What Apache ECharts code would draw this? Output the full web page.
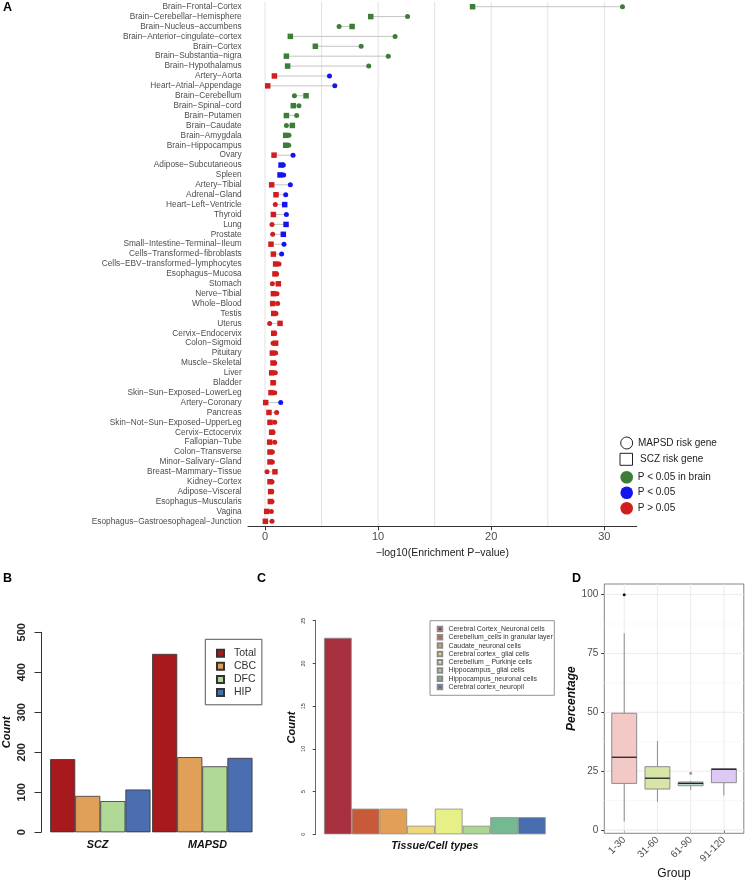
<!DOCTYPE html>
<html><head><meta charset="utf-8">
<script src="https://cdn.jsdelivr.net/npm/echarts@6/dist/echarts.min.js"></script>
<style>html,body{margin:0;padding:0;background:#fff}#c{width:747px;height:881px}</style>
</head><body><div id="c"></div>
<script>
// ---------- Panel A data ----------
const tissues = ['Brain-Frontal-Cortex','Brain-Cerebellar-Hemisphere','Brain-Nucleus-accumbens','Brain-Anterior-cingulate-cortex','Brain-Cortex','Brain-Substantia-nigra','Brain-Hypothalamus','Artery-Aorta','Heart-Atrial-Appendage','Brain-Cerebellum','Brain-Spinal-cord','Brain-Putamen','Brain-Caudate','Brain-Amygdala','Brain-Hippocampus','Ovary','Adipose-Subcutaneous','Spleen','Artery-Tibial','Adrenal-Gland','Heart-Left-Ventricle','Thyroid','Lung','Prostate','Small-Intestine-Terminal-Ileum','Cells-Transformed-fibroblasts','Cells-EBV-transformed-lymphocytes','Esophagus-Mucosa','Stomach','Nerve-Tibial','Whole-Blood','Testis','Uterus','Cervix-Endocervix','Colon-Sigmoid','Pituitary','Muscle-Skeletal','Liver','Bladder','Skin-Sun-Exposed-LowerLeg','Artery-Coronary','Pancreas','Skin-Not-Sun-Exposed-UpperLeg','Cervix-Ectocervix','Fallopian-Tube','Colon-Transverse','Minor-Salivary-Gland','Breast-Mammary-Tissue','Kidney-Cortex','Adipose-Visceral','Esophagus-Muscularis','Vagina','Esophagus-Gastroesophageal-Junction'];
const sczValues = [18.35,9.35,7.7,2.24,4.45,1.89,2.0,0.83,0.24,3.63,2.5,1.89,2.42,1.83,1.83,0.8,1.42,1.33,0.59,0.97,1.74,0.74,1.86,1.62,0.53,0.74,0.94,0.88,1.18,0.74,0.68,0.77,1.33,0.77,0.94,0.65,0.71,0.59,0.71,0.53,0.06,0.35,0.44,0.59,0.41,0.44,0.44,0.88,0.44,0.5,0.47,0.15,0.03];
const mapsdValues = [31.6,12.6,6.55,11.5,8.5,10.9,9.17,5.7,6.17,2.6,3.0,2.8,1.89,2.12,2.1,2.48,1.62,1.65,2.24,1.83,0.91,1.89,0.62,0.68,1.68,1.47,1.24,1.03,0.65,1.06,1.12,0.97,0.41,0.86,0.71,0.94,0.86,0.91,0.77,0.86,1.39,1.03,0.86,0.71,0.86,0.65,0.65,0.18,0.62,0.6,0.62,0.56,0.62];
// B = P<0.05 in brain, S = P<0.05, N = P>0.05
const sczGroup = ['B','B','B','B','B','B','B','N','N','B','B','B','B','B','B','N','S','S','N','N','S','N','S','S','N','N','N','N','N','N','N','N','N','N','N','N','N','N','N','N','N','N','N','N','N','N','N','N','N','N','N','N','N'];
const mapsdGroup = ['B','B','B','B','B','B','B','S','S','B','B','B','B','B','B','S','S','S','S','S','N','S','N','N','S','S','N','N','N','N','N','N','N','N','N','N','N','N','N','N','S','N','N','N','N','N','N','N','N','N','N','N','N'];
const gridTicksA = [0,5,10,15,20,25,30];
const labelTicksA = [0,10,20,30];

// ---------- Panel B data ----------
const barGroups = ['SCZ','MAPSD'];
const barNames = ['Total','CBC','DFC','HIP'];
const barTotal = [183,446];
const barCBC = [91,188];
const barDFC = [78,165];
const barHIP = [107,186];

// ---------- Panel C data ----------
const cellTypes = ['Cerebral Cortex_Neuronal cells','Cerebellum_cells in granular layer','Caudate_neuronal cells','Cerebral cortex_ glial cells','Cerebellum _ Purkinje cells','Hippocampus_ glial cells','Hippocampus_neuronal cells','Cerebral cortex_neuropil'];
const cellCounts = [23,3,3,1,3,1,2,2];

// ---------- Panel D data ----------
const boxGroups = ['1-30','31-60','61-90','91-120'];
const boxPositions = [1,2,3,4];
const boxLow = [3.6,12.0,17.0,14.7];
const boxQ1 = [19.8,17.4,18.8,20.1];
const boxMedian = [30.9,22.0,19.8,25.8];
const boxQ3 = [49.6,26.9,20.4,26.0];
const boxHigh = [83.6,37.8,20.8,26.3];
const outlierGroup = [1,3];
const outlierValue = [99.9,24.1];
const gridMajorD = [0,25,50,75,100];
const gridMinorD = [12.5,37.5,62.5,87.5];

// ---------- styles ----------
const groupColor = {B:'#3C7D37', S:'#1414F0', N:'#D01E1E'};
const barColors = ['#A8191E','#E0A05A','#B0D896','#4A6EAF'];
const cellColors = ['#A6303E','#C85A3A','#E1A055','#F0D778','#E6F087','#AAD791','#73B991','#466EAF'];
const boxFills = ['#F2C9C7','#D7E5A6','#C2DCDC','#DEC9F5'];
const outlierColors = ['#111','#999'];
const FONT = 'Liberation Sans, Arial, sans-serif';

const chart = echarts.init(document.getElementById('c'), null, {renderer:'canvas'});

const series = [];
// A: vertical gridlines
series.push({
  type:'custom', xAxisIndex:0, yAxisIndex:0, z:0, silent:true,
  data: gridTicksA.map(v=>[v, 0]),
  encode:{x:0, y:1},
  renderItem:(params, api)=>{
    const p = api.coord([api.value(0), 0]);
    const cs = params.coordSys;
    return {type:'line', shape:{x1:p[0],y1:cs.y,x2:p[0],y2:cs.y+cs.height}, style:{stroke:'#E3E3E3', lineWidth:1}};
  }
});
// A: segments
series.push({
  type:'custom', xAxisIndex:0, yAxisIndex:0, z:1, silent:true,
  data: tissues.map((t,i)=>[sczValues[i], mapsdValues[i], i]),
  encode:{x:[0,1], y:2},
  renderItem:(params, api)=>{
    const a = api.coord([api.value(0), api.value(2)]);
    const b = api.coord([api.value(1), api.value(2)]);
    return {type:'line', shape:{x1:a[0],y1:a[1],x2:b[0],y2:b[1]}, style:{stroke:'#C4C4C4', lineWidth:1}};
  }
});
series.push({
  name:'SCZ risk gene', type:'scatter', xAxisIndex:0, yAxisIndex:0, z:5, symbol:'rect', symbolSize:5.5,
  data: tissues.map((t,i)=>({value:[sczValues[i], i], itemStyle:{color:groupColor[sczGroup[i]], opacity:1}}))
});
series.push({
  name:'MAPSD risk gene', type:'scatter', xAxisIndex:0, yAxisIndex:0, z:6, symbol:'circle', symbolSize:5,
  data: tissues.map((t,i)=>({value:[mapsdValues[i], i], itemStyle:{color:groupColor[mapsdGroup[i]], opacity:1}}))
});
// B
[barTotal, barCBC, barDFC, barHIP].forEach((arr,k)=>{
  series.push({name:barNames[k], type:'bar', xAxisIndex:1, yAxisIndex:1, data:arr,
    barGap:'0%', barCategoryGap:'1.6%',
    itemStyle:{color:barColors[k], borderColor:'#333', borderWidth:0.8}});
});
// C
cellTypes.forEach((n,k)=>{
  series.push({name:n, type:'bar', xAxisIndex:2, yAxisIndex:2, data:[cellCounts[k]],
    barGap:'0%', barCategoryGap:'0%',
    itemStyle:{color:cellColors[k], borderColor:'#8A8A8A', borderWidth:0.8}});
});
// D: gridlines
const dGrid = gridMajorD.map(v=>[v,'hmaj']).concat(gridMinorD.map(v=>[v,'hmin'])).concat(boxPositions.map(v=>[v,'v']));
series.push({
  type:'custom', xAxisIndex:3, yAxisIndex:3, z:1, silent:true,
  data: dGrid.map(d=>[d[1]==='v'?d[0]:1, d[1]==='v'?0:d[0]]),
  encode:{x:0, y:1},
  renderItem:(params, api)=>{
    const kind = dGrid[params.dataIndex][1];
    const p = api.coord([api.value(0), api.value(1)]);
    const cs = params.coordSys;
    if (kind==='v') return {type:'line', shape:{x1:p[0],y1:cs.y,x2:p[0],y2:cs.y+cs.height}, style:{stroke:'#EBEBEB', lineWidth:1}};
    return {type:'line', shape:{x1:cs.x,y1:p[1],x2:cs.x+cs.width,y2:p[1]}, style:{stroke: kind==='hmaj'?'#EBEBEB':'#F4F4F4', lineWidth: kind==='hmaj'?1:0.6}};
  }
});
// D: boxes
series.push({
  type:'custom', xAxisIndex:3, yAxisIndex:3, z:3, silent:true,
  data: boxGroups.map((g,i)=>[boxPositions[i], boxLow[i], boxQ1[i], boxMedian[i], boxQ3[i], boxHigh[i]]),
  encode:{x:0, y:[1,2,3,4,5]},
  renderItem:(params, api)=>{
    const x = api.value(0);
    const lo = api.coord([x, api.value(1)]);
    const q1 = api.coord([x, api.value(2)]);
    const md = api.coord([x, api.value(3)]);
    const q3 = api.coord([x, api.value(4)]);
    const hi = api.coord([x, api.value(5)]);
    const hw = api.size([0.375, 0])[0];
    const st = {stroke:'#8C8C8C', lineWidth:1};
    return {type:'group', children:[
      {type:'line', shape:{x1:lo[0],y1:lo[1],x2:q1[0],y2:q1[1]}, style:st},
      {type:'line', shape:{x1:q3[0],y1:q3[1],x2:hi[0],y2:hi[1]}, style:st},
      {type:'rect', shape:{x:q3[0]-hw, y:q3[1], width:hw*2, height:q1[1]-q3[1]}, style:{fill:boxFills[params.dataIndex], stroke:'#8C8C8C', lineWidth:1}},
      {type:'line', shape:{x1:md[0]-hw,y1:md[1],x2:md[0]+hw,y2:md[1]}, style:{stroke:'#222', lineWidth:1.3}}
    ]};
  }
});
series.push({
  type:'scatter', xAxisIndex:3, yAxisIndex:3, z:4, symbolSize:3, silent:true,
  data: outlierGroup.map((g,i)=>({value:[g, outlierValue[i]], itemStyle:{color:outlierColors[i], opacity:1}}))
});

const legendA = [
  {type:'circle', shape:{cx:626.7, cy:443, r:6}, style:{fill:'#fff', stroke:'#222', lineWidth:1}},
  {type:'rect', shape:{x:620, y:453.3, width:12.5, height:12}, style:{fill:'#fff', stroke:'#222', lineWidth:1}},
  {type:'circle', shape:{cx:626.7, cy:477.3, r:6.3}, style:{fill:groupColor.B}},
  {type:'circle', shape:{cx:626.7, cy:492.7, r:6.3}, style:{fill:groupColor.S}},
  {type:'circle', shape:{cx:626.7, cy:508.3, r:6.3}, style:{fill:groupColor.N}}
];
const legendTexts = [['MAPSD risk gene',638,443],['SCZ risk gene',640,459.3],['P < 0.05 in brain',637.7,477.3],['P < 0.05',637.7,492.7],['P > 0.05',637.7,508.3]];
legendTexts.forEach(t=>legendA.push({type:'text', x:t[1], y:t[2], style:{text:t[0], fill:'#222', font:'10px '+FONT, textAlign:'left', textVerticalAlign:'middle'}}));
[['A',3,1],['B',3,572],['C',257,572],['D',572,572]].forEach(p=>legendA.push({type:'text', x:p[1], y:p[2], style:{text:p[0], fill:'#000', font:'bold 12.5px '+FONT, textAlign:'left', textVerticalAlign:'top'}}));
legendA.push({type:'rect', shape:{x:430, y:620.7, width:124.3, height:74.6}, style:{fill:'none', stroke:'#777', lineWidth:0.8}, z:10});

const labelB = {fontSize:10.8, fontWeight:'bold', fontStyle:'italic', color:'#111', fontFamily:FONT};
const option = {
  animation:false,
  backgroundColor:'#fff',
  textStyle:{fontFamily:FONT},
  grid:[
    {left:248, top:1.75, width:388.7, height:524.5},
    {left:48.3, top:632.3, width:205, height:200},
    {left:324, top:620.7, width:221.7, height:213.6},
    {left:604.3, top:584, width:139.5, height:249.3, show:true, borderColor:'#666', borderWidth:0.8, backgroundColor:'#fff'}
  ],
  xAxis:[
    {gridIndex:0, type:'value', min:-1.503, max:32.86,
     axisLine:{show:true, lineStyle:{color:'#333', width:1}},
     axisTick:{show:true, customValues:labelTicksA, length:4, lineStyle:{color:'#333'}},
     axisLabel:{customValues:labelTicksA, fontSize:11, color:'#4D4D4D', margin:5, fontFamily:FONT},
     splitLine:{show:false},
     name:'\u2212log10(Enrichment P\u2212value)', nameLocation:'middle', nameGap:21,
     nameTextStyle:{fontSize:10.5, color:'#222', fontFamily:FONT}},
    {gridIndex:1, type:'category', data:barGroups,
     axisLine:{show:false}, axisTick:{show:false},
     axisLabel:Object.assign({margin:7, formatter:(v,i)=> i===0 ? '{a|'+v+'}' : '{b|'+v+'}',
       rich:{a:Object.assign({padding:[0,5.6,0,0]}, labelB), b:Object.assign({padding:[0,0,0,10.4]}, labelB)}}, labelB)},
    {gridIndex:2, type:'category', data:['Tissue/Cell types'],
     axisLine:{show:false}, axisTick:{show:false},
     axisLabel:{fontSize:10.7, fontWeight:'bold', fontStyle:'italic', color:'#111', margin:6.5, fontFamily:FONT}},
    {gridIndex:3, type:'value', min:0.4, max:4.6,
     axisLine:{show:false},
     axisTick:{show:true, customValues:boxPositions, length:3, lineStyle:{color:'#333'}},
     axisLabel:{customValues:boxPositions, formatter:v=>boxGroups[Math.round(v)-1], rotate:45, fontSize:10, color:'#4D4D4D', margin:5, fontFamily:FONT},
     splitLine:{show:false},
     name:'Group', nameLocation:'middle', nameGap:34, nameTextStyle:{fontSize:12, color:'#111', fontFamily:FONT}}
  ],
  yAxis:[
    {gridIndex:0, type:'category', data:tissues, inverse:true,
     axisLine:{show:false}, axisTick:{show:false}, splitLine:{show:false},
     axisLabel:{interval:0, fontSize:8.3, color:'#4D4D4D', margin:6.3, fontFamily:FONT, formatter:v=>v.replace(/-/g,'\u2212')}},
    {gridIndex:1, type:'value', min:0, max:500, interval:100, offset:8.3,
     axisLine:{show:true, lineStyle:{color:'#333', width:1}},
     axisTick:{show:true, length:6.5, lineStyle:{color:'#333'}},
     axisLabel:{rotate:90, fontSize:11, fontWeight:'bold', color:'#222', margin:13.5, fontFamily:FONT},
     splitLine:{show:false},
     name:'Count', nameLocation:'middle', nameGap:29, nameTextStyle:{fontSize:11, fontWeight:'bold', fontStyle:'italic', color:'#111', fontFamily:FONT}},
    {gridIndex:2, type:'value', min:0, max:25, interval:5, offset:8.3,
     axisLine:{show:true, lineStyle:{color:'#444', width:0.8}},
     axisTick:{show:true, length:3, lineStyle:{color:'#444'}},
     axisLabel:{rotate:90, fontSize:5.5, color:'#333', margin:9.5, fontFamily:FONT},
     splitLine:{show:false},
     name:'Count', nameLocation:'middle', nameGap:18, nameTextStyle:{fontSize:11, fontWeight:'bold', fontStyle:'italic', color:'#111', fontFamily:FONT}},
    {gridIndex:3, type:'value', min:-1.4, max:104.5,
     axisLine:{show:false},
     axisTick:{show:true, customValues:gridMajorD, length:3, lineStyle:{color:'#333'}},
     axisLabel:{customValues:gridMajorD, fontSize:10, color:'#4D4D4D', margin:6, fontFamily:FONT},
     splitLine:{show:false},
     name:'Percentage', nameLocation:'middle', nameGap:18, nameTextStyle:{fontSize:12, fontWeight:'bold', fontStyle:'italic', color:'#111', fontFamily:FONT, padding:[0,0,0,20]}}
  ],
  legend:[
    {data:barNames, orient:'vertical', left:205.3, top:639.3, itemWidth:7, itemHeight:7, itemGap:0,
     padding:[7.4,5.7,5.7,10.7], borderColor:'#555', borderWidth:1, icon:'rect',
     textStyle:{fontSize:10.5, color:'#333', lineHeight:13.1, padding:[0,0,0,5], fontFamily:FONT}, selectedMode:false},
    {data:cellTypes, orient:'vertical', left:430, top:620.7, itemWidth:4.5, itemHeight:4.5, itemGap:0,
     padding:[4.2,4,4,6.7], icon:'rect',
     textStyle:{fontSize:6.9, color:'#333', lineHeight:8.28, padding:[0,0,0,1.3], fontFamily:FONT}, selectedMode:false}
  ],
  graphic: legendA,
  series: series
};
chart.setOption(option);
</script></body></html>
